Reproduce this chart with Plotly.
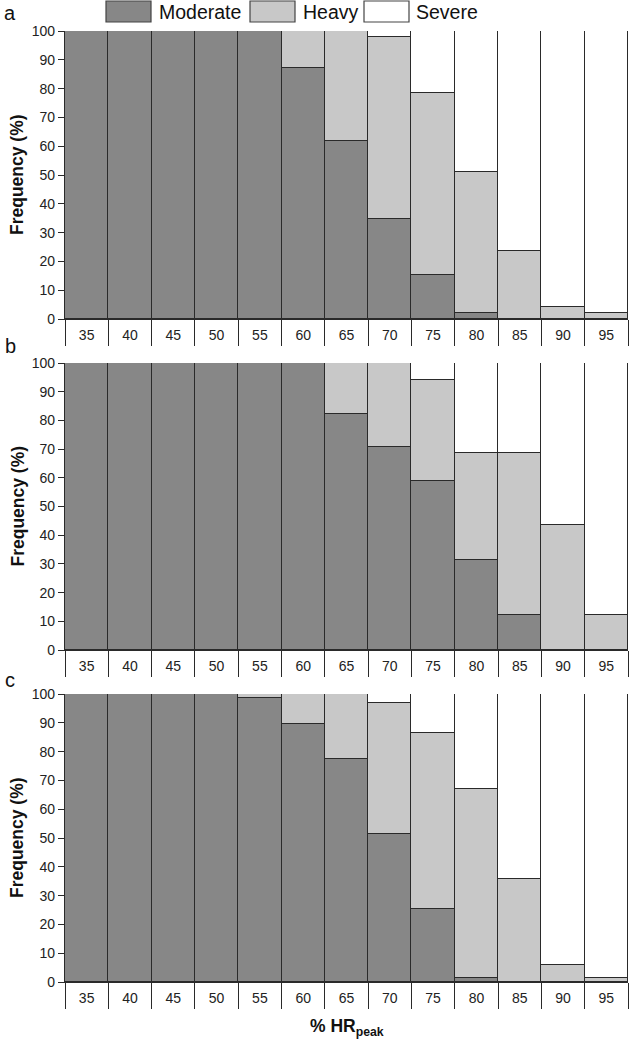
import plotly.graph_objects as go

W, H = 630, 1045

hr_values = [35, 40, 45, 50, 55, 60, 65, 70, 75, 80, 85, 90, 95]
hr_labels = [str(v) for v in hr_values]

# Panel a
a_moderate = [100, 100, 100, 100, 100, 87.3, 61.8, 34.7, 15.2, 2.0, 0, 0, 0]
a_heavy    = [0, 0, 0, 0, 0, 12.7, 38.2, 63.1, 63.2, 49.2, 23.6, 4.3, 2.0]
a_severe   = [0, 0, 0, 0, 0, 0, 0, 2.2, 21.6, 48.8, 76.4, 95.7, 98.0]

# Panel b
b_moderate = [100, 100, 100, 100, 100, 100, 82.3, 70.6, 58.8, 31.3, 12.3, 0, 0]
b_heavy    = [0, 0, 0, 0, 0, 0, 17.7, 29.4, 35.4, 37.5, 56.5, 43.7, 12.2]
b_severe   = [0, 0, 0, 0, 0, 0, 0, 0, 5.8, 31.2, 31.2, 56.3, 87.8]

# Panel c
c_moderate = [100, 100, 100, 100, 98.5, 89.6, 77.5, 51.5, 25.3, 1.3, 0, 0, 0]
c_heavy    = [0, 0, 0, 0, 1.5, 10.4, 22.5, 45.4, 61.2, 65.8, 35.6, 5.8, 1.3]
c_severe   = [0, 0, 0, 0, 0, 0, 0, 3.1, 13.5, 32.9, 64.4, 94.2, 98.7]

series_names = ["Moderate", "Heavy", "Severe"]
series_colors = ["#878787", "#c8c8c8", "#ffffff"]
panel_letters = ["a", "b", "c"]
panels = [
    (a_moderate, a_heavy, a_severe),
    (b_moderate, b_heavy, b_severe),
    (c_moderate, c_heavy, c_severe),
]

# pixel geometry of the plot areas (top, bottom)
panel_px = [(31, 319), (363, 650), (694, 982)]
x_left_px, x_right_px = 65, 628

def px_x(p):
    return p / W

def px_y(p):
    return 1 - p / H

fig = go.Figure()
layout = dict(
    width=W, height=H,
    margin=dict(l=0, r=0, t=0, b=0),
    paper_bgcolor="white", plot_bgcolor="white",
    barmode="stack", bargap=0,
    showlegend=False,
    font=dict(family="Liberation Sans, Arial, sans-serif", size=14, color="#222"),
)

line_col = "#2a2a2a"
for i, (vals, (top, bot)) in enumerate(zip(panels, panel_px)):
    xa = "x" if i == 0 else f"x{i+1}"
    ya = "y" if i == 0 else f"y{i+1}"
    for name, color, v in zip(series_names, series_colors, vals):
        fig.add_trace(go.Bar(
            x=hr_values, y=v, name=name, xaxis=xa, yaxis=ya,
            marker=dict(color=color, line=dict(color=line_col, width=1.2)),
            showlegend=False,
        ))
    xkey = "xaxis" if i == 0 else f"xaxis{i+1}"
    ykey = "yaxis" if i == 0 else f"yaxis{i+1}"
    layout[xkey] = dict(
        domain=[px_x(x_left_px), px_x(x_right_px)],
        anchor=ya, range=[32.5, 97.5],
        tickmode="array", tickvals=hr_values, ticktext=hr_labels,
        ticks="", showgrid=False, zeroline=False,
        showline=True, linecolor=line_col, linewidth=1.3,
        tickfont=dict(size=14, color="#222"),
        ticklabelstandoff=3,
        minor=dict(ticks="outside", ticklen=26, tickwidth=1.3, tickcolor=line_col,
                   tickmode="array", tickvals=[v - 2.5 for v in hr_values] + [97.5],
                   showgrid=False),
        automargin=False, fixedrange=True,
    )
    layout[ykey] = dict(
        domain=[px_y(bot), px_y(top)],
        anchor=xa, range=[0, 100], dtick=10, tick0=0,
        ticks="outside", ticklen=6, tickwidth=1.3, tickcolor=line_col,
        showgrid=False, zeroline=False,
        showline=True, linecolor=line_col, linewidth=1.3,
        tickfont=dict(size=14, color="#222"),
        automargin=False, fixedrange=True,
    )

annotations = []
shapes = []
# panel letters and y titles
letter_y = [13, 346, 680]
for letter, ly, (top, bot) in zip(panel_letters, letter_y, panel_px):
    annotations.append(dict(text=letter, x=px_x(10), y=px_y(ly), xref="paper", yref="paper",
                            showarrow=False, font=dict(size=20, color="#111"),
                            xanchor="center", yanchor="middle"))
    annotations.append(dict(text="<b>Frequency (%)</b>", x=px_x(17), y=px_y((top + bot) / 2),
                            xref="paper", yref="paper", showarrow=False, textangle=-90,
                            font=dict(size=17.5, color="#111"),
                            xanchor="center", yanchor="middle"))

# x title
annotations.append(dict(text="<b>% HR<sub>peak</sub></b>", x=px_x(347), y=px_y(1027),
                        xref="paper", yref="paper", showarrow=False,
                        font=dict(size=17.5, color="#111"), xanchor="center", yanchor="middle"))

# legend (drawn manually)
legend_boxes = [(106, 151), (250, 295), (364, 409)]
legend_text_x = [157, 301, 414]
for name, color, (bx0, bx1), tx in zip(series_names, series_colors, legend_boxes, legend_text_x):
    shapes.append(dict(type="rect", xref="paper", yref="paper",
                       x0=px_x(bx0), x1=px_x(bx1), y0=px_y(22), y1=px_y(1),
                       fillcolor=color, line=dict(color="#444", width=1.2)))
    annotations.append(dict(text=name, x=px_x(tx), y=px_y(12), xref="paper", yref="paper",
                            showarrow=False, font=dict(size=19.5, color="#111"),
                            xanchor="left", yanchor="middle"))

layout["annotations"] = annotations
layout["shapes"] = shapes
fig.update_layout(**layout)
fig.write_html(
    "out.html",
    config={"displayModeBar": False},
    post_script="document.body.style.margin='0';document.body.style.padding='0';",
)
